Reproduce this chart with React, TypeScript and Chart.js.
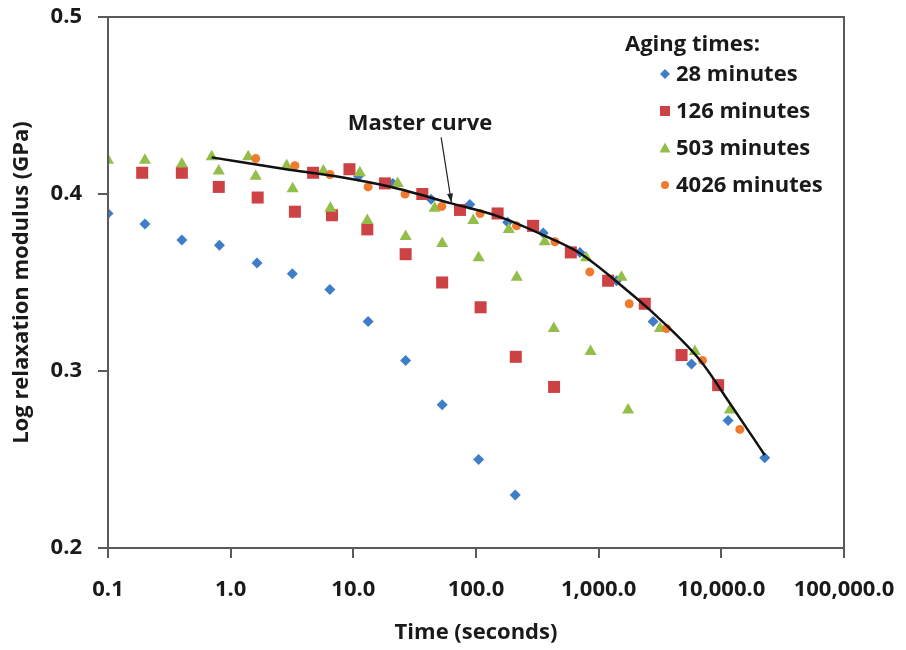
import React, { useEffect, useRef } from 'react';
import { Chart, registerables } from 'chart.js';

Chart.register(...registerables);

// ---------- data ----------
const xTickValues = [0.1, 1, 10, 100, 1000, 10000, 100000];
const xTickLabels = ['0.1', '1.0', '10.0', '100.0', '1,000.0', '10,000.0', '100,000.0'];
const yTickValues = [0.2, 0.3, 0.4, 0.5];
const yTickLabels = ['0.2', '0.3', '0.4', '0.5'];

const seriesNames = ['28 minutes', '126 minutes', '503 minutes', '4026 minutes'];

// 28 minutes (raw + shifted onto master curve)
const blueTimes = [0.1, 0.2, 0.4, 0.81, 1.64, 3.18, 6.44, 13.2, 26.7, 53, 105, 209];
const blueModulus = [0.389, 0.383, 0.374, 0.371, 0.361, 0.355, 0.346, 0.328, 0.306, 0.281, 0.250, 0.230];
const blueShiftTimes = [11, 21, 43, 89, 181, 353, 703, 1400, 2780, 5710, 11350, 22600];
const blueShiftModulus = [0.410, 0.406, 0.397, 0.394, 0.384, 0.378, 0.367, 0.351, 0.328, 0.304, 0.272, 0.251];

// 126 minutes
const redTimes = [0.19, 0.4, 0.8, 1.66, 3.34, 6.7, 13, 26.7, 53, 109, 211, 433];
const redModulus = [0.412, 0.412, 0.404, 0.398, 0.390, 0.388, 0.380, 0.366, 0.350, 0.336, 0.308, 0.291];
const redShiftTimes = [4.7, 9.3, 18.1, 36.5, 74, 150, 292, 593, 1194, 2377, 4740, 9420];
const redShiftModulus = [0.412, 0.414, 0.406, 0.400, 0.391, 0.389, 0.382, 0.367, 0.351, 0.338, 0.309, 0.292];

// 503 minutes
const greenTimes = [0.1, 0.2, 0.4, 0.8, 1.6, 3.2, 6.5, 13, 26.7, 53, 105, 215, 431, 859, 1738];
const greenModulus = [0.419, 0.419, 0.417, 0.413, 0.410, 0.403, 0.392, 0.385, 0.376, 0.372, 0.364, 0.353, 0.324, 0.311, 0.278];
const greenShiftTimes = [0.7, 1.39, 2.86, 5.7, 11.3, 23, 46, 95, 185, 363, 790, 1535, 3160, 6080, 11760];
const greenShiftModulus = [0.421, 0.421, 0.416, 0.413, 0.412, 0.406, 0.392, 0.385, 0.380, 0.373, 0.364, 0.353, 0.324, 0.311, 0.278];

// 4026 minutes (reference)
const orangeTimes = [1.6, 3.34, 6.45, 13.2, 26.4, 52.6, 108, 214, 440, 847, 1775, 3570, 7020, 14150];
const orangeModulus = [0.420, 0.416, 0.411, 0.404, 0.400, 0.393, 0.389, 0.382, 0.373, 0.356, 0.338, 0.324, 0.306, 0.267];

// master curve
const masterTimes = [0.7, 3.0, 8, 20, 63, 150, 376, 703, 1690, 2610, 6680, 11700, 22600];
const masterModulus = [0.4207, 0.4137, 0.4095, 0.4041, 0.3947, 0.3875, 0.3759, 0.3665, 0.3458, 0.3345, 0.3062, 0.2819, 0.2525];

// annotation
const annotationText = 'Master curve';
const annotationLabel = { x: 35, y: 0.4395 };
const annotationFrom = { x: 52, y: 0.432 };
const annotationTo = { x: 63, y: 0.3952 };

const legendTitle = 'Aging times:';

// ---------- styles ----------
const BLUE = '#3F7DC8';
const RED = '#CD4245';
const GREEN = '#94BE4A';
const ORANGE = '#F07A2E';
const AXIS = '#5a5a5a';
const TEXT = '#1a1a1a';
const FONT = '"Open Sans"';
const FSIZE = 22;

const pts = (xs: number[], ys: number[]) => xs.map((x, i) => ({ x, y: ys[i] }));

function drawMarker(ctx: CanvasRenderingContext2D, kind: string, x: number, y: number, r: number, color: string) {
  ctx.save();
  ctx.fillStyle = color;
  ctx.beginPath();
  if (kind === 'diamond') {
    ctx.moveTo(x, y - r); ctx.lineTo(x + r, y); ctx.lineTo(x, y + r); ctx.lineTo(x - r, y); ctx.closePath();
  } else if (kind === 'square') {
    ctx.rect(x - r, y - r, 2 * r, 2 * r);
  } else if (kind === 'triangle') {
    ctx.moveTo(x, y - r); ctx.lineTo(x + r, y + r * 0.8); ctx.lineTo(x - r, y + r * 0.8); ctx.closePath();
  } else {
    ctx.arc(x, y, r, 0, Math.PI * 2);
  }
  ctx.fill();
  ctx.restore();
}

const overlayPlugin = {
  id: 'overlay',
  afterDraw(chart: any) {
    const ctx: CanvasRenderingContext2D = chart.ctx;
    const a = chart.chartArea;
    const xs = chart.scales.x;
    const ys = chart.scales.y;
    ctx.save();
    // plot border
    ctx.strokeStyle = AXIS;
    ctx.lineWidth = 2;
    ctx.strokeRect(a.left, a.top, a.right - a.left, a.bottom - a.top);

    // legend
    ctx.fillStyle = TEXT;
    ctx.font = `bold ${FSIZE}px ${FONT}`;
    ctx.textBaseline = 'middle';
    ctx.textAlign = 'left';
    const lx = a.right - 219;
    ctx.fillText(legendTitle, lx, a.top + 28);
    const kinds = ['diamond', 'square', 'triangle', 'circle'];
    const colors = [BLUE, RED, GREEN, ORANGE];
    const sizes = [5, 5, 5.5, 4];
    seriesNames.forEach((name, i) => {
      const cy = a.top + 57 + i * 37;
      drawMarker(ctx, kinds[i], a.right - 179, cy, sizes[i], colors[i]);
      ctx.fillStyle = TEXT;
      ctx.fillText(name, a.right - 168, cy + 1);
    });

    // annotation
    ctx.textAlign = 'center';
    ctx.fillText(annotationText, xs.getPixelForValue(annotationLabel.x), ys.getPixelForValue(annotationLabel.y));
    const x1 = xs.getPixelForValue(annotationFrom.x);
    const y1 = ys.getPixelForValue(annotationFrom.y);
    const x2 = xs.getPixelForValue(annotationTo.x);
    const y2 = ys.getPixelForValue(annotationTo.y);
    ctx.strokeStyle = '#222';
    ctx.lineWidth = 1.2;
    ctx.beginPath();
    ctx.moveTo(x1, y1);
    ctx.lineTo(x2, y2);
    ctx.stroke();
    const ang = Math.atan2(y2 - y1, x2 - x1);
    const hl = 9, hw = 3;
    ctx.fillStyle = '#222';
    ctx.beginPath();
    ctx.moveTo(x2, y2);
    ctx.lineTo(x2 - hl * Math.cos(ang) + hw * Math.sin(ang), y2 - hl * Math.sin(ang) - hw * Math.cos(ang));
    ctx.lineTo(x2 - hl * Math.cos(ang) - hw * Math.sin(ang), y2 - hl * Math.sin(ang) + hw * Math.cos(ang));
    ctx.closePath();
    ctx.fill();
    ctx.restore();
  },
};

export default function App() {
  const ref = useRef<HTMLCanvasElement | null>(null);
  useEffect(() => {
    if (!ref.current) return;
    const scatter = (data: any[], color: string, style: string, radius: number) => ({
      type: 'scatter' as const,
      data,
      showLine: false,
      pointStyle: style,
      pointRadius: radius,
      pointBackgroundColor: color,
      pointBorderColor: color,
      pointBorderWidth: 0,
    });
    const tickFont = { family: FONT, size: FSIZE, weight: 'bold' as const };
    const chart = new Chart(ref.current, {
      type: 'scatter',
      data: {
        datasets: [
          {
            type: 'line',
            label: 'Master curve',
            data: pts(masterTimes, masterModulus),
            borderColor: '#111',
            borderWidth: 2.5,
            pointRadius: 0,
            fill: false,
            cubicInterpolationMode: 'monotone',
          } as any,
          scatter(pts(orangeTimes, orangeModulus), ORANGE, 'circle', 4.5),
          scatter(pts(greenShiftTimes, greenShiftModulus), GREEN, 'triangle', 7),
          scatter(pts(greenTimes, greenModulus), GREEN, 'triangle', 7),
          scatter(pts(redShiftTimes, redShiftModulus), RED, 'rect', 8.5),
          scatter(pts(redTimes, redModulus), RED, 'rect', 8.5),
          scatter(pts(blueShiftTimes, blueShiftModulus), BLUE, 'rectRot', 5.5),
          scatter(pts(blueTimes, blueModulus), BLUE, 'rectRot', 5.5),
        ],
      },
      options: {
        responsive: false,
        animation: false,
        layout: { padding: { left: 0, right: 62, top: 17, bottom: 0 } },
        plugins: { legend: { display: false }, tooltip: { enabled: false } },
        scales: {
          x: {
            type: 'logarithmic',
            min: 0.1,
            max: 100000,
            afterBuildTicks: (s: any) => { s.ticks = xTickValues.map((v) => ({ value: v })); },
            afterFit: (s: any) => { s.height = 102; s.paddingLeft = 0; s.paddingRight = 0; },
            ticks: {
              autoSkip: false,
              maxRotation: 0,
              padding: 19,
              color: TEXT,
              font: tickFont,
              callback: (_v: any, i: number) => xTickLabels[i],
            },
            grid: { drawOnChartArea: false, drawTicks: true, tickLength: 10, color: AXIS, lineWidth: 2 },
            border: { color: AXIS, width: 2 },
            title: {
              display: true,
              text: 'Time (seconds)',
              color: TEXT,
              font: tickFont,
              padding: { top: 0, bottom: 4 },
            },
          },
          y: {
            type: 'linear',
            min: 0.2,
            max: 0.5,
            afterBuildTicks: (s: any) => { s.ticks = yTickValues.map((v) => ({ value: v })); },
            afterFit: (s: any) => { s.width = 108; s.paddingTop = 0; s.paddingBottom = 0; },
            ticks: {
              padding: 16,
              color: TEXT,
              font: tickFont,
              callback: (_v: any, i: number) => yTickLabels[i],
            },
            grid: { drawOnChartArea: false, drawTicks: true, tickLength: 10, color: AXIS, lineWidth: 2 },
            border: { color: AXIS, width: 2 },
            title: {
              display: true,
              text: 'Log relaxation modulus (GPa)',
              color: TEXT,
              font: tickFont,
              padding: { top: 9, bottom: 0 },
            },
          },
        },
      },
      plugins: [overlayPlugin],
    } as any);
    return () => chart.destroy();
  }, []);
  return (
    <div style={{ position: 'fixed', left: 0, top: 0, width: 906, height: 650, background: '#fff' }}>
      <canvas ref={ref} width={906} height={650} />
    </div>
  );
}
